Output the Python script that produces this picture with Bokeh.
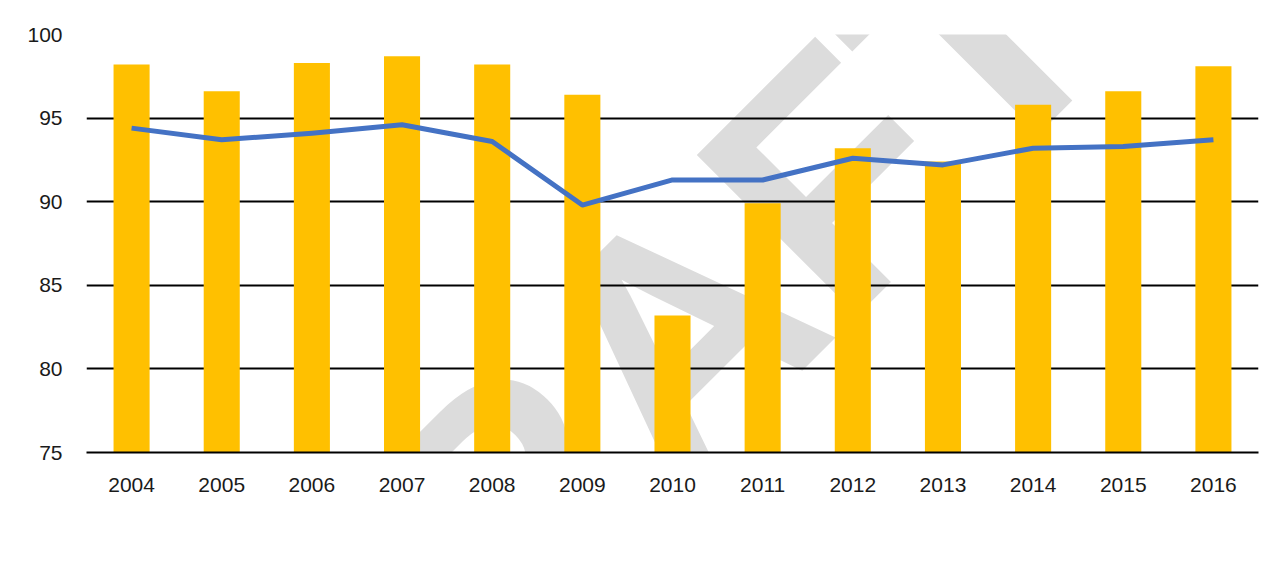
import math
from bokeh.plotting import figure
from bokeh.models import (FactorRange, Range1d, FixedTicker, Legend, LegendItem,
                          Label, ColumnDataSource)
from bokeh.embed import file_html
from bokeh.resources import INLINE

years = ["2004", "2005", "2006", "2007", "2008", "2009", "2010",
         "2011", "2012", "2013", "2014", "2015", "2016"]
okeechobee = [98.2, 96.6, 98.3, 98.7, 98.2, 96.4, 83.2, 89.9, 93.2, 92.4, 95.8, 96.6, 98.1]
florida = [94.4, 93.7, 94.1, 94.6, 93.6, 89.8, 91.3, 91.3, 92.6, 92.2, 93.2, 93.3, 93.7]
y_ticks = [75, 80, 85, 90, 95, 100]

FONT = "Liberation Sans"
TEXT_COLOR = "#1a1a1a"

src = ColumnDataSource(dict(year=years, okee=okeechobee, fl=florida))

p = figure(frame_width=1172, frame_height=418, x_range=FactorRange(*years),
           y_range=Range1d(75, 100), output_backend="svg", toolbar_location=None,
           min_border_left=86, min_border_right=20, min_border_top=34,
           min_border_bottom=105)
p.outline_line_color = None
p.background_fill_color = "white"
p.border_fill_color = "white"

# watermark (behind grid and data)
wm = Label(x=564, y=92, x_units="screen", y_units="screen", text="DRAFT",
           angle=math.pi / 4, text_align="center", text_baseline="middle",
           text_font=FONT, text_font_style="bold", text_font_size="330px",
           text_color="#DCDCDC", level="image")
p.add_layout(wm)

bars = p.vbar(x="year", top="okee", bottom=75, width=0.4, source=src,
              fill_color="#FFC000", line_color=None)
ln = p.line(x="year", y="fl", source=src, line_color="#4472C4", line_width=5,
            line_join="round")

# axes
p.yaxis.ticker = FixedTicker(ticks=y_ticks)
p.yaxis.axis_line_color = None
p.yaxis.major_tick_line_color = None
p.yaxis.minor_tick_line_color = None
p.yaxis.major_tick_out = 0
p.yaxis.major_label_standoff = 24
p.yaxis.major_label_text_font = FONT
p.yaxis.major_label_text_font_size = "21px"
p.yaxis.major_label_text_color = TEXT_COLOR

p.xaxis.axis_line_color = "black"
p.xaxis.axis_line_width = 2
p.xaxis.major_tick_line_color = None
p.xaxis.major_tick_out = 0
p.xaxis.major_label_standoff = 25
p.xaxis.major_label_text_font = FONT
p.xaxis.major_label_text_font_size = "21px"
p.xaxis.major_label_text_color = TEXT_COLOR

p.xgrid.grid_line_color = None
p.ygrid.ticker = FixedTicker(ticks=y_ticks)
p.ygrid.grid_line_color = "black"
p.ygrid.grid_line_width = 2

legend = Legend(items=[LegendItem(label="Okeechobee", renderers=[bars]),
                       LegendItem(label="Florida", renderers=[ln])],
                orientation="horizontal", location="center",
                glyph_width=52, glyph_height=13, label_standoff=6, spacing=26,
                padding=4, margin=8, border_line_color=None,
                background_fill_alpha=0,
                label_text_font=FONT, label_text_font_size="21px",
                label_text_color=TEXT_COLOR)
p.add_layout(legend, "below")

open("out.html", "w").write(file_html(p, INLINE))
